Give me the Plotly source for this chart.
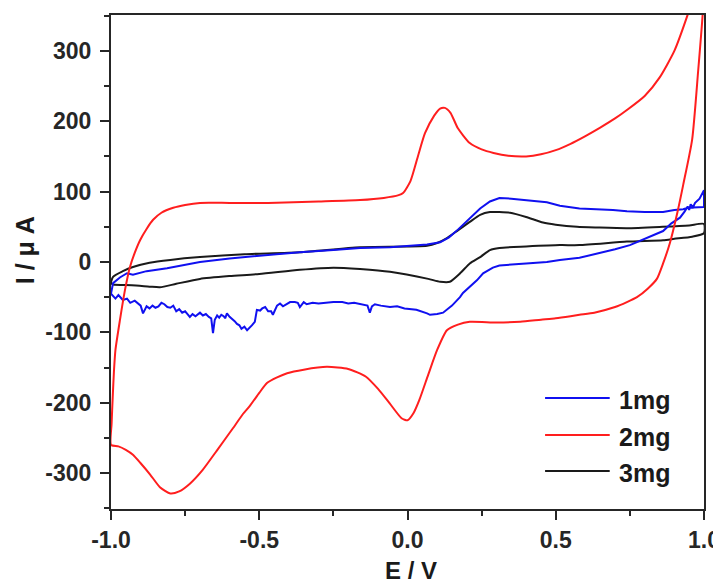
import plotly.graph_objects as go

# ---- data ----
E_2mg = [-1.0, -0.998, -0.994, -0.99, -0.985, -0.97, -0.953, -0.936, -0.92, -0.902, -0.88, -0.858, -0.83, -0.79,
         -0.75, -0.70, -0.60, -0.47, -0.30, -0.16, -0.08, -0.03, -0.015, 0.01, 0.035, 0.059, 0.09, 0.11, 0.126,
         0.145, 0.17, 0.21, 0.25, 0.29, 0.34, 0.40, 0.45, 0.50, 0.55, 0.60, 0.65, 0.70, 0.74, 0.80, 0.85,
         0.90, 0.943, 0.97, 1.0,
         1.0, 0.996, 0.98, 0.96, 0.93, 0.91, 0.885, 0.862, 0.841, 0.81, 0.774, 0.74, 0.70, 0.63, 0.58, 0.55,
         0.50, 0.45, 0.38, 0.3, 0.21,
         0.17, 0.133, 0.10, 0.07, 0.04, 0.02, 0.0, -0.02, -0.06, -0.10, -0.14, -0.2, -0.272, -0.35, -0.406,
         -0.44, -0.474, -0.50, -0.531, -0.555, -0.59, -0.643, -0.69, -0.734, -0.77, -0.80, -0.835, -0.868, -0.90,
         -0.926, -0.95, -0.975, -1.0]
I_2mg = [-260, -230, -190, -155, -125, -83, -40, -7, 13, 31, 47, 60, 70, 77,
         81, 84, 84, 84, 86, 88, 91, 95, 98, 115, 150, 183, 208, 218, 219,
         212, 190, 169, 160, 155, 151, 150, 153, 159, 168, 179, 191, 204, 216, 236, 262,
         300, 349, 385, 420,
         400, 355, 270, 174, 110, 70, 27, -2, -24, -38, -50, -57, -64, -72, -75, -77,
         -80, -82, -85, -86, -85,
         -89, -97, -125, -160, -196, -215, -225, -222, -201, -180, -163, -152, -149, -153, -158,
         -164, -172, -186, -204, -216, -237, -268, -295, -315, -326, -329, -320, -302, -286,
         -274, -267, -262, -260]

E_3mg = [-1.0, -0.993, -0.96, -0.926, -0.87, -0.80, -0.70, -0.55, -0.363, -0.16, 0.066, 0.10, 0.133, 0.17,
         0.21, 0.245, 0.278, 0.31, 0.346, 0.40, 0.457, 0.50, 0.572, 0.64, 0.74, 0.86, 0.95, 1.0,
         1.0, 0.96, 0.90, 0.862, 0.74, 0.58, 0.514, 0.40, 0.31, 0.278, 0.245, 0.21, 0.18, 0.143, 0.11,
         0.07, -0.059, -0.16, -0.25, -0.363, -0.5, -0.60, -0.70, -0.78, -0.835, -0.87, -0.93, -0.993, -1.0]
I_3mg = [-30, -21, -13, -7, -1, 3, 7, 11, 14, 21, 23, 27, 34, 45,
         57, 67, 71, 71, 70, 64, 56, 53, 50, 49, 48, 50, 52, 54,
         41, 36, 33, 31, 29, 24, 24, 22, 20, 17, 7, -2, -15, -28, -28,
         -24, -14, -10, -8, -11, -17, -20, -24, -31, -36, -35, -33, -32, -30]

E_1mg = [-1.0, -0.997, -0.993, -0.97, -0.946, -0.926, -0.88, -0.811, -0.75, -0.70, -0.60, -0.50, -0.363,
         -0.25, -0.16, -0.059, 0.03, 0.066, 0.11, 0.14, 0.17, 0.21, 0.245, 0.278, 0.31, 0.35, 0.40, 0.47,
         0.514, 0.58, 0.693, 0.74, 0.80, 0.862, 0.90, 0.93, 0.945, 0.963, 1.0,
         1.0, 0.985, 0.97, 0.963, 0.955, 0.95, 0.945, 0.935, 0.919, 0.89, 0.862, 0.80, 0.75, 0.70, 0.63,
         0.58, 0.514, 0.47, 0.40, 0.31, 0.288, 0.255, 0.234, 0.21, 0.187, 0.177, 0.15, 0.12, 0.10, 0.076,
         0.066, 0.03, -0.01, -0.035, -0.059, -0.09, -0.11, -0.12, -0.127, -0.135, -0.16, -0.18, -0.20, -0.22,
         -0.25, -0.27, -0.30, -0.32, -0.34, -0.35, -0.363, -0.37, -0.38, -0.396, -0.41, -0.42, -0.43, -0.44,
         -0.454, -0.46, -0.47, -0.48, -0.49, -0.497, -0.508, -0.512, -0.515, -0.525, -0.53, -0.541, -0.55,
         -0.56, -0.567, -0.575, -0.583, -0.59, -0.60, -0.609, -0.615, -0.62, -0.628, -0.635, -0.642, -0.65,
         -0.656, -0.662, -0.67, -0.68, -0.69, -0.70, -0.708, -0.715, -0.725, -0.734, -0.742, -0.75, -0.76,
         -0.77, -0.78, -0.79, -0.80, -0.81, -0.82, -0.83, -0.84, -0.85, -0.86, -0.87, -0.88, -0.892, -0.90,
         -0.91, -0.92, -0.935, -0.946, -0.96, -0.975, -0.985, -0.993, -1.0]
I_1mg = [-45, -35, -30, -22, -16, -18, -13, -9, -4, 0, 5, 9, 14,
         17, 20, 21, 24, 25, 28, 35, 46, 62, 76, 86, 91, 90, 88, 85,
         80, 76, 74, 72, 71, 71, 74, 75, 77, 77, 78,
         102, 90, 84, 78, 82, 74, 79, 72, 63, 55, 44, 33, 24, 18, 11,
         6, 3, 0, -2, -5, -8, -16, -26, -35, -44, -50, -62, -72, -74, -75,
         -73, -68, -66, -63, -64, -62, -60, -63, -72, -62, -60, -58, -59, -57,
         -57, -58, -59, -58, -60, -57, -64, -58, -57, -57, -61, -63, -59, -62,
         -75, -70, -70, -64, -66, -69, -68, -78, -85, -90, -92, -97, -92,
         -95, -90, -88, -84, -82, -78, -73, -80, -77, -75, -79, -76, -82,
         -101, -80, -78, -74, -76, -72, -75, -77, -74, -78, -74, -70, -72,
         -67, -70, -62, -65, -64, -60, -58, -63, -65, -62, -66, -63, -73, -62,
         -58, -55, -58, -52, -54, -47, -52, -49, -45]

x_ticks = [-1.0, -0.5, 0.0, 0.5, 1.0]
x_ticklabels = ["-1.0", "-0.5", "0.0", "0.5", "1.0"]
y_ticks = [-300, -200, -100, 0, 100, 200, 300]
y_ticklabels = ["-300", "-200", "-100", "0", "100", "200", "300"]

names = ["1mg", "2mg", "3mg"]
colors = ["#1010f0", "#ff1e1e", "#1a1a1a"]

FONT = "Liberation Sans, Arial, sans-serif"

fig = go.Figure()
for name, E, I, c, shp in [(names[2], E_3mg, I_3mg, colors[2], "spline"),
                           (names[0], E_1mg, I_1mg, colors[0], "linear"),
                           (names[1], E_2mg, I_2mg, colors[1], "spline")]:
    line = dict(color=c, width=2, shape=shp)
    if shp == "spline":
        line["smoothing"] = 0.6
    fig.add_trace(go.Scatter(x=E, y=I, mode="lines", name=name,
                             line=line, showlegend=False))

axis_common = dict(
    showline=True, linecolor="#262626", linewidth=2, mirror=True,
    ticks="outside", ticklen=9, tickwidth=2, tickcolor="#262626",
    showgrid=False, zeroline=False, automargin=False,
    tickfont=dict(family=FONT, size=23, color="#262626", weight="bold"),
)

fig.update_xaxes(range=[-1.0, 1.0], tickmode="array", tickvals=x_ticks, ticktext=x_ticklabels,
                 minor=dict(ticks="outside", ticklen=5, tickwidth=2, tickcolor="#262626", dtick=0.25, tick0=0),
                 **axis_common)
fig.update_yaxes(range=[-351, 351], tickmode="array", tickvals=y_ticks, ticktext=y_ticklabels,
                 ticklabelstandoff=4,
                 minor=dict(ticks="outside", ticklen=5, tickwidth=2, tickcolor="#262626", dtick=50, tick0=0),
                 **axis_common)

# axis titles
annotations = [
    dict(text="E / V", x=0.506, y=-0.125, xref="paper", yref="paper", showarrow=False,
         xanchor="center", yanchor="middle",
         font=dict(family=FONT, size=24, color="#1a1a1a", weight="bold")),
    dict(text="I / μ A", x=-0.145, y=0.524, xref="paper", yref="paper", showarrow=False,
         textangle=-90, xanchor="center", yanchor="middle",
         font=dict(family=FONT, size=25, color="#1a1a1a", weight="bold")),
]

# legend (drawn as shapes + text)
shapes = []
leg_y = [0.2247, 0.1498, 0.0769]
for nm, c, yy in zip(names, colors, leg_y):
    shapes.append(dict(type="line", xref="paper", yref="paper", x0=0.732, x1=0.841, y0=yy, y1=yy,
                       line=dict(color=c, width=2)))
    annotations.append(dict(text=nm, x=0.853, y=yy - 0.004, xref="paper", yref="paper", showarrow=False,
                            xanchor="left", yanchor="middle",
                            font=dict(family=FONT, size=25, color="#1a1a1a", weight="bold")))

# page has an 8px body margin, so the figure is 8px smaller than the window
fig.update_layout(
    width=713, height=579,
    margin=dict(l=103, r=17, t=7, b=78),
    paper_bgcolor="white", plot_bgcolor="white",
    annotations=annotations, shapes=shapes,
    showlegend=False,
)

fig.write_html("out.html")
